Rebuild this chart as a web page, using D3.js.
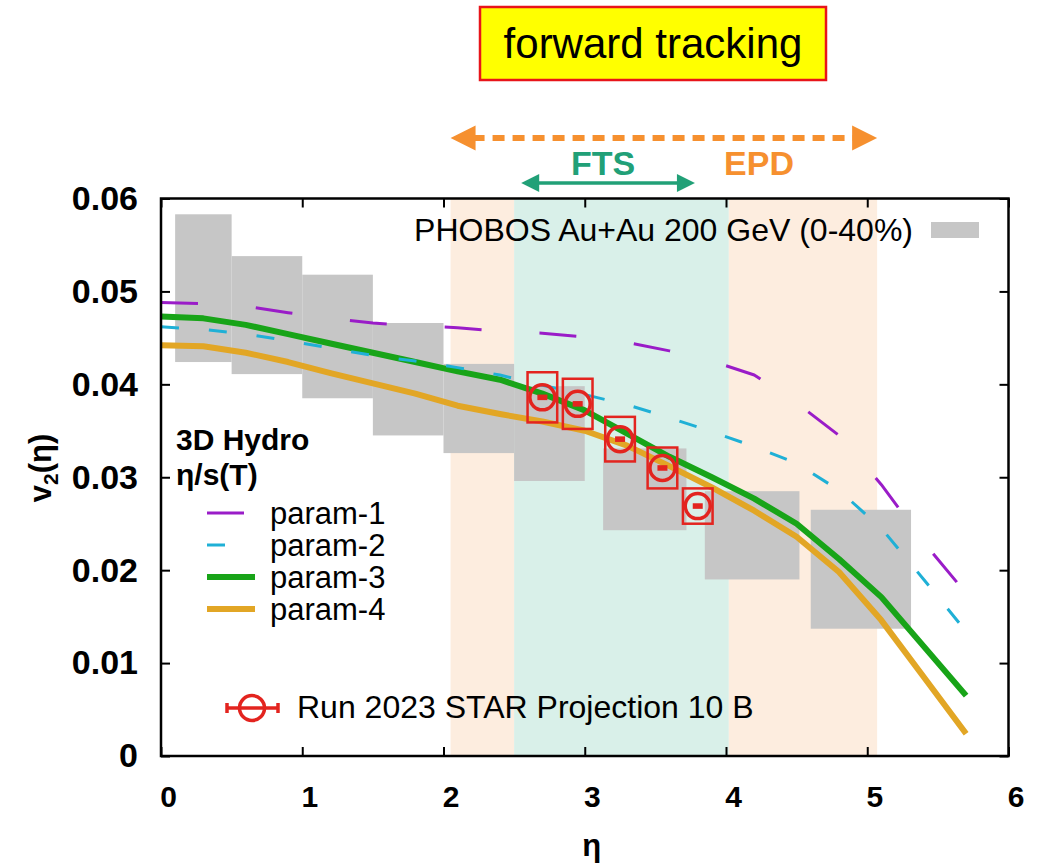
<!DOCTYPE html>
<html>
<head>
<meta charset="utf-8">
<script src="https://cdn.jsdelivr.net/npm/d3@7/dist/d3.min.js"></script>
<style>
  html, body { margin: 0; padding: 0; background: #fff; }
  svg { display: block; }
  text { font-family: "Liberation Sans", Arial, Helvetica, sans-serif; }
</style>
</head>
<body>
<svg id="chart" width="1040" height="867"></svg>
<script>
// Pseudorapidity grid of the 3D hydro calculations
const etaGrid = [0, 0.3, 0.6, 0.9, 1.2, 1.5, 1.8, 2.1, 2.4, 2.7, 3.0, 3.3, 3.6, 3.9, 4.2, 4.5, 4.8, 5.1, 5.4, 5.7];

// v2(eta) for four eta/s(T) parametrisations
const param1 = [0.0488, 0.0487, 0.0484, 0.0477, 0.0471, 0.0466, 0.0463, 0.0461, 0.0457, 0.0455, 0.0451, 0.0445, 0.0436, 0.0425, 0.0410, 0.0380, 0.0345, 0.0292, 0.0230, 0.0175];
const param2 = [0.0462, 0.0459, 0.0454, 0.0447, 0.0439, 0.0431, 0.0425, 0.0418, 0.0410, 0.0399, 0.0389, 0.0378, 0.0364, 0.0349, 0.0333, 0.0315, 0.0286, 0.0245, 0.0190, 0.0134];
const param3 = [0.0473, 0.0471, 0.0464, 0.0454, 0.0444, 0.0434, 0.0424, 0.0414, 0.0405, 0.0390, 0.0372, 0.0347, 0.0322, 0.0300, 0.0277, 0.0250, 0.0212, 0.0171, 0.0118, 0.0065];
const param4 = [0.0442, 0.0441, 0.0434, 0.0424, 0.0412, 0.0401, 0.0390, 0.0377, 0.0368, 0.0360, 0.0350, 0.0334, 0.0312, 0.0289, 0.0264, 0.0236, 0.0198, 0.0146, 0.0085, 0.0024];
const paramNames = ["param-1", "param-2", "param-3", "param-4"];

// PHOBOS Au+Au 200 GeV (0-40%) v2 bands: eta bin edges and v2 range
const phobosEtaLo = [0.10, 0.50, 1.00, 1.50, 2.00, 2.50, 3.13, 3.85, 4.60];
const phobosEtaHi = [0.50, 1.00, 1.50, 2.00, 2.50, 3.00, 3.72, 4.52, 5.31];
const phobosV2Lo  = [0.0424, 0.0411, 0.0385, 0.0345, 0.0326, 0.0296, 0.0243, 0.0190, 0.0137];
const phobosV2Hi  = [0.0583, 0.0538, 0.0518, 0.0466, 0.0422, 0.0398, 0.0331, 0.0285, 0.0265];

// Run 2023 STAR projection (10 B events)
const starEta  = [2.70, 2.95, 3.25, 3.55, 3.80];
const starV2   = [0.0386, 0.0379, 0.0341, 0.0310, 0.0269];
const starSys  = [0.0027, 0.0027, 0.0024, 0.0022, 0.0019];
const starStat = [0.0003, 0.0003, 0.0003, 0.0003, 0.0003];
const starEtaHalfWidth = 0.105;

// Detector acceptance ranges in eta
const epdRange = [2.05, 5.07];
const ftsRange = [2.5, 4.02];
const ftsArrow = [2.55, 3.78];

// Axis ticks
const xTicks = [0, 1, 2, 3, 4, 5, 6];
const yTicks = [0, 0.01, 0.02, 0.03, 0.04, 0.05, 0.06];
const yTickLabels = ["0", "0.01", "0.02", "0.03", "0.04", "0.05", "0.06"];

const colors = {
  param1: "#9a1cc8", param2: "#1fb0d6", param3: "#18a418", param4: "#e2a625",
  phobos: "#c6c6c6", star: "#e3241f",
  epdBand: "#fdeddf", ftsBand: "#d9f0e9",
  epd: "#f6902f", fts: "#21a077"
};

const svg = d3.select("#chart");
const plot = { left: 161, right: 1008.5, top: 198.5, bottom: 756 };

const x = d3.scaleLinear().domain([0, 6]).range([plot.left, plot.right]);
const y = d3.scaleLinear().domain([0, 0.06]).range([plot.bottom, plot.top]);

// Acceptance bands
const bands = [
  { lo: epdRange[0], hi: ftsRange[0], color: colors.epdBand },
  { lo: ftsRange[0], hi: ftsRange[1], color: colors.ftsBand },
  { lo: ftsRange[1], hi: epdRange[1], color: colors.epdBand }
];
svg.append("g").selectAll("rect").data(bands).join("rect")
  .attr("x", d => x(d.lo)).attr("width", d => x(d.hi) - x(d.lo))
  .attr("y", plot.top).attr("height", plot.bottom - plot.top)
  .attr("fill", d => d.color);

// PHOBOS boxes
svg.append("g").selectAll("rect").data(phobosEtaLo.map((lo, i) => i)).join("rect")
  .attr("x", i => x(phobosEtaLo[i]))
  .attr("width", i => x(phobosEtaHi[i]) - x(phobosEtaLo[i]))
  .attr("y", i => y(phobosV2Hi[i]))
  .attr("height", i => y(phobosV2Lo[i]) - y(phobosV2Hi[i]))
  .attr("fill", colors.phobos);

// Hydro curves
const line = d3.line().x(d => x(d[0])).y(d => y(d[1]));
const curves = [
  { values: param1, color: colors.param1, width: 3, dash: "37,58" },
  { values: param2, color: colors.param2, width: 3, dash: "18,30" },
  { values: param3, color: colors.param3, width: 6, dash: null },
  { values: param4, color: colors.param4, width: 6, dash: null }
];
const curveG = svg.append("g");
// draw the solid curves first, then dashed ones on top
[curves[3], curves[2], curves[1], curves[0]].forEach(c => {
  curveG.append("path")
    .datum(etaGrid.map((e, i) => [e, c.values[i]]))
    .attr("d", line)
    .attr("fill", "none")
    .attr("stroke", c.color)
    .attr("stroke-width", c.width)
    .attr("stroke-linejoin", "round")
    .attr("stroke-dasharray", c.dash);
});

// STAR projection points
const starG = svg.append("g");
starEta.forEach((e, i) => {
  const cx = x(e), cy = y(starV2[i]);
  starG.append("rect")
    .attr("x", x(e - starEtaHalfWidth)).attr("width", x(e + starEtaHalfWidth) - x(e - starEtaHalfWidth))
    .attr("y", y(starV2[i] + starSys[i])).attr("height", y(starV2[i] - starSys[i]) - y(starV2[i] + starSys[i]))
    .attr("fill", "none").attr("stroke", colors.star).attr("stroke-width", 2.5);
  starG.append("rect")
    .attr("x", cx - 5).attr("width", 10)
    .attr("y", y(starV2[i] + starStat[i])).attr("height", y(starV2[i] - starStat[i]) - y(starV2[i] + starStat[i]))
    .attr("fill", colors.star);
  starG.append("circle")
    .attr("cx", cx).attr("cy", cy).attr("r", 12.5)
    .attr("fill", "none").attr("stroke", colors.star).attr("stroke-width", 3.5);
});

// Axes: ticks point inwards on all four sides
const gx = svg.append("g").attr("transform", `translate(0,${plot.bottom})`)
  .call(d3.axisBottom(x).tickValues(xTicks).tickFormat(d3.format("d")).tickSize(-9).tickPadding(30));
gx.selectAll("text").attr("dx", 7).attr("font-size", 30).attr("font-weight", "bold").attr("fill", "#000");
const gy = svg.append("g").attr("transform", `translate(${plot.left},0)`)
  .call(d3.axisLeft(y).tickValues(yTicks).tickFormat((d, i) => yTickLabels[i]).tickSize(-9).tickPadding(23));
gy.selectAll("text").attr("font-size", 34).attr("font-weight", "bold").attr("fill", "#000");
const gt = svg.append("g").attr("transform", `translate(0,${plot.top})`)
  .call(d3.axisTop(x).tickValues(xTicks).tickFormat("").tickSize(-9));
const gr = svg.append("g").attr("transform", `translate(${plot.right},0)`)
  .call(d3.axisRight(y).tickValues(yTicks).tickFormat("").tickSize(-9));
[gx, gy, gt, gr].forEach(g => {
  g.select(".domain").remove();
  g.selectAll("line").attr("stroke", "#000").attr("stroke-width", 2);
  g.attr("font-family", null);
});
svg.append("rect")
  .attr("x", plot.left).attr("y", plot.top)
  .attr("width", plot.right - plot.left).attr("height", plot.bottom - plot.top)
  .attr("fill", "none").attr("stroke", "#000").attr("stroke-width", 2.5);

// Axis titles
svg.append("text")
  .attr("x", (plot.left + plot.right) / 2 + 7).attr("y", 856)
  .attr("text-anchor", "middle").attr("font-size", 31).attr("font-weight", "bold").text("η");
const yTitle = svg.append("text")
  .attr("transform", "translate(51,468) rotate(-90)")
  .attr("text-anchor", "middle").attr("font-size", 31).attr("font-weight", "bold");
yTitle.append("tspan").text("v");
yTitle.append("tspan").attr("font-size", 21).attr("dy", 7).text("2");
yTitle.append("tspan").attr("dy", -7).text("(η)");

// PHOBOS legend entry
svg.append("text").attr("x", 913).attr("y", 241).attr("text-anchor", "end")
  .attr("font-size", 32).text("PHOBOS Au+Au 200 GeV (0-40%)");
svg.append("rect").attr("x", 931).attr("y", 222).attr("width", 48).attr("height", 16)
  .attr("fill", colors.phobos);

// Hydro legend
svg.append("text").attr("x", 176).attr("y", 450).attr("font-size", 30)
  .attr("font-weight", "bold").text("3D Hydro");
svg.append("text").attr("x", 176).attr("y", 485).attr("font-size", 30)
  .attr("font-weight", "bold").text("η/s(T)");
curves.forEach((c, i) => {
  const ly = 513 + i * 32;
  svg.append("line")
    .attr("x1", 207).attr("x2", c.dash ? (i === 0 ? 245 : 255) : 255)
    .attr("y1", ly).attr("y2", ly)
    .attr("stroke", c.color).attr("stroke-width", c.width)
    .attr("stroke-dasharray", c.dash);
  svg.append("text").attr("x", 270).attr("y", ly + 11).attr("font-size", 31)
    .text(paramNames[i]);
});

// STAR legend entry
const lg = svg.append("g").attr("stroke", colors.star).attr("stroke-width", 3.5).attr("fill", "none");
lg.append("line").attr("x1", 227).attr("x2", 278).attr("y1", 708).attr("y2", 708);
lg.append("line").attr("x1", 227).attr("x2", 227).attr("y1", 703).attr("y2", 713);
lg.append("line").attr("x1", 278).attr("x2", 278).attr("y1", 703).attr("y2", 713);
lg.append("circle").attr("cx", 252).attr("cy", 708).attr("r", 12.5);
svg.append("text").attr("x", 297).attr("y", 718).attr("font-size", 32)
  .text("Run 2023 STAR Projection 10 B");

// Acceptance arrows above the frame
const arrowHead = (g, tipX, yy, dir, len, half, color) => {
  g.append("path")
    .attr("d", `M${tipX},${yy} L${tipX + dir * len},${yy - half} L${tipX + dir * len},${yy + half} Z`)
    .attr("fill", color);
};
const epdY = 138, ftsY = 183;
const ag = svg.append("g");
ag.append("line")
  .attr("x1", x(epdRange[0]) + 22).attr("x2", x(epdRange[1]) - 22)
  .attr("y1", epdY).attr("y2", epdY)
  .attr("stroke", colors.epd).attr("stroke-width", 6).attr("stroke-dasharray", "12,8");
arrowHead(ag, x(epdRange[0]), epdY, 1, 25, 12.5, colors.epd);
arrowHead(ag, x(epdRange[1]), epdY, -1, 25, 12.5, colors.epd);
ag.append("line")
  .attr("x1", x(ftsArrow[0]) + 10).attr("x2", x(ftsArrow[1]) - 10)
  .attr("y1", ftsY).attr("y2", ftsY)
  .attr("stroke", colors.fts).attr("stroke-width", 3.5);
arrowHead(ag, x(ftsArrow[0]), ftsY, 1, 18, 9, colors.fts);
arrowHead(ag, x(ftsArrow[1]), ftsY, -1, 18, 9, colors.fts);
svg.append("text").attr("x", 603).attr("y", 175).attr("text-anchor", "middle")
  .attr("font-size", 34).attr("font-weight", "bold").attr("fill", colors.fts).text("FTS");
svg.append("text").attr("x", 759).attr("y", 175).attr("text-anchor", "middle")
  .attr("font-size", 34).attr("font-weight", "bold").attr("fill", colors.epd).text("EPD");

// Title box
svg.append("rect").attr("x", 480).attr("y", 7).attr("width", 346).attr("height", 73)
  .attr("fill", "#ffff00").attr("stroke", "#e8141a").attr("stroke-width", 2.5);
svg.append("text").attr("x", 653).attr("y", 58).attr("text-anchor", "middle")
  .attr("font-size", 42).text("forward tracking");
</script>
</body>
</html>
